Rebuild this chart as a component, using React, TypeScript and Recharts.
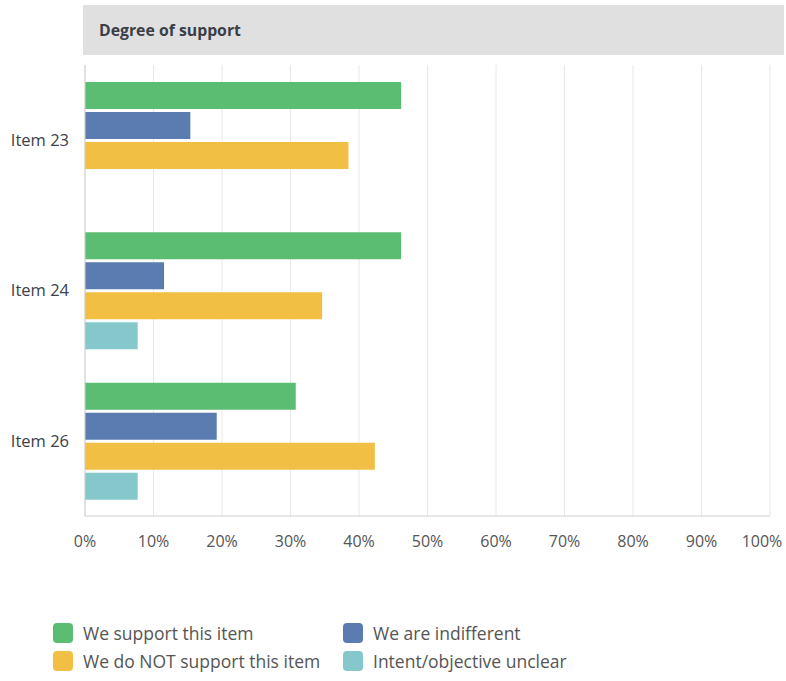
import React from 'react';
import { BarChart, Bar, XAxis, YAxis, CartesianGrid, Legend } from 'recharts';

const categories = ['Item 23', 'Item 24', 'Item 26'];
const supportValues = [46.15, 46.15, 30.77];
const indifferentValues = [15.38, 11.54, 19.23];
const notSupportValues = [38.46, 34.62, 42.31];
const unclearValues = [0, 7.69, 7.69];
const xTicks = [0, 10, 20, 30, 40, 50, 60, 70, 80, 90, 100];
const seriesKeys = ['support', 'indifferent', 'notSupport', 'unclear'];
const seriesNames = ['We support this item', 'We are indifferent', 'We do NOT support this item', 'Intent/objective unclear'];
const seriesColors = ['#5bbd72', '#5a7cb1', '#f0bf43', '#86c7cb'];
const headerTitle = 'Degree of support';

const data = categories.map((name, i) => ({
  name,
  support: supportValues[i],
  indifferent: indifferentValues[i],
  notSupport: notSupportValues[i],
  unclear: unclearValues[i],
}));

const FONT = '"Open Sans", "Noto Sans", sans-serif';

const XTick = (props: any) => {
  const { x, y, payload } = props;
  const last = payload.value === 100;
  return (
    <text x={x} y={y} dy="0.71em" dx={last ? -8 : 0} textAnchor="middle" fill="#555" fontSize={16} fontFamily={FONT}>
      {payload.value + '%'}
    </text>
  );
};

const LegendContent = (props: any) => {
  const payload = [...(props.payload || [])].sort(
    (a: any, b: any) => seriesKeys.indexOf(a.dataKey) - seriesKeys.indexOf(b.dataKey)
  );
  return (
    <div style={{ display: 'grid', gridTemplateColumns: '290px 300px', rowGap: 8, fontFamily: FONT }}>
      {payload.map((p: any) => (
        <div key={p.value} style={{ display: 'flex', alignItems: 'center', height: 20 }}>
          <div style={{ width: 20, height: 20, borderRadius: 4, background: p.color, flex: 'none' }} />
          <span style={{ marginLeft: 10, fontSize: 17.5, color: '#555', whiteSpace: 'nowrap' }}>{p.value}</span>
        </div>
      ))}
    </div>
  );
};

export default function App() {
  return (
    <div style={{ position: 'absolute', left: 0, top: 0, width: 786, height: 681, background: '#fff' }}>
      <div
        style={{
          position: 'absolute',
          left: 83,
          top: 5,
          width: 701,
          height: 50,
          background: '#e0e0e0',
          fontFamily: FONT,
          fontWeight: 700,
          fontSize: 15.8,
          color: '#3a3f47',
          lineHeight: '50px',
          paddingLeft: 16,
          boxSizing: 'border-box',
        }}
      >
        {headerTitle}
      </div>
      <BarChart
        width={786}
        height={681}
        data={data}
        layout="vertical"
        margin={{ top: 65, right: 16, bottom: 125, left: 0 }}
        barSize={27}
        barGap={3}
        style={{ position: 'absolute', left: 0, top: 0 }}
      >
        <CartesianGrid horizontal={false} vertical={true} stroke="#e8e8e8" />
        <XAxis
          type="number"
          domain={[0, 100]}
          ticks={xTicks}
          interval={0}
          height={40}
          tickLine={false}
          tickSize={0}
          tickMargin={20}
          axisLine={{ stroke: '#cfcfcf' }}
          tick={<XTick />}
        />
        <YAxis
          type="category"
          dataKey="name"
          width={85}
          tickLine={false}
          tickSize={0}
          tickMargin={16}
          axisLine={{ stroke: '#cfcfcf' }}
          tick={{ fill: '#3c4049', fontSize: 16.5, fontFamily: FONT }}
        />
        <Legend
          layout="vertical"
          align="center"
          verticalAlign="middle"
          wrapperStyle={{ left: 53, top: 623, width: 640 }}
          content={<LegendContent />}
        />
        {seriesKeys.map((k, i) => (
          <Bar key={k} dataKey={k} name={seriesNames[i]} fill={seriesColors[i]} isAnimationActive={false} />
        ))}
      </BarChart>
    </div>
  );
}
